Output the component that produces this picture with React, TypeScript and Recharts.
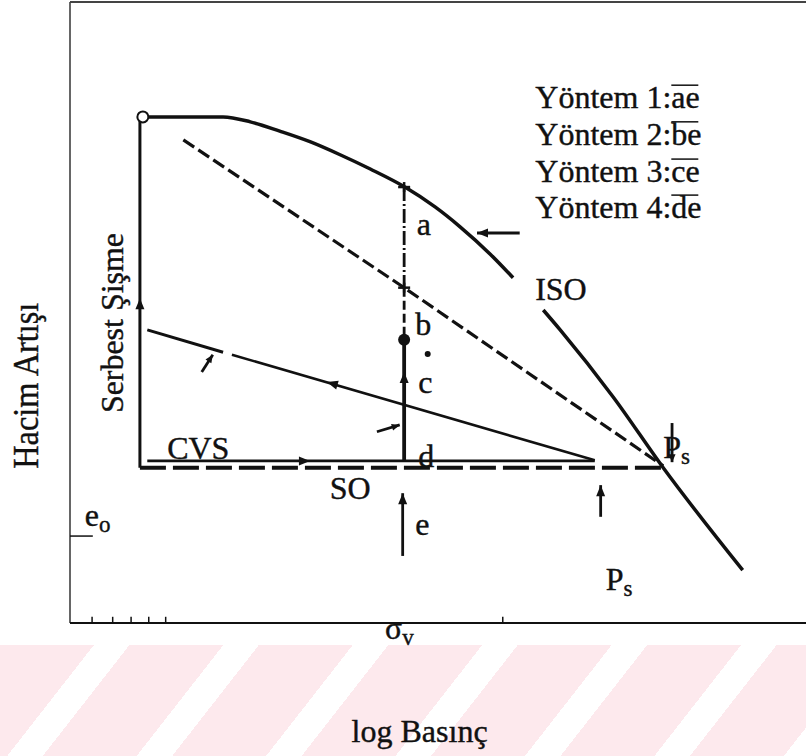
import React from "react";
import { ComposedChart, Line, XAxis, YAxis, ReferenceLine, ReferenceDot } from "recharts";

// all values in plot units: x = log pressure (0..100), y = volume change (0..100)

// ISO curve, broken where the "ISO" label sits
const isoUpper = [
  { x: 10.2, y: 81.5 }, { x: 20.8, y: 81.5 }, { x: 24.5, y: 80.7 }, { x: 28.5, y: 79.2 },
  { x: 32.6, y: 77.5 }, { x: 36.7, y: 75.4 }, { x: 40.8, y: 73.1 }, { x: 45.5, y: 70.2 },
  { x: 49.6, y: 67.0 }, { x: 53.0, y: 63.8 }, { x: 57.1, y: 59.4 }, { x: 60.2, y: 55.6 },
];
const isoLower = [
  { x: 64.3, y: 50.4 }, { x: 66.6, y: 47.2 }, { x: 73.8, y: 36.4 }, { x: 80.6, y: 25.0 }, { x: 91.4, y: 8.5 },
];
// long dashed line (method 2)
const dashB = [{ x: 15.4, y: 77.8 }, { x: 45.4, y: 54.0 }, { x: 80.6, y: 25.3 }];
// CVS loading line, small break near the left
const slopeA = [{ x: 10.5, y: 47.2 }, { x: 20.8, y: 43.6 }];
const slopeB = [{ x: 22.0, y: 43.2 }, { x: 71.3, y: 26.2 }];
const cvsLine = [{ x: 10.5, y: 26.1 }, { x: 71.3, y: 26.1 }];
const soLine = [{ x: 9.5, y: 25.0 }, { x: 80.6, y: 25.0 }];
const freeSwell = [{ x: 9.5, y: 80.8 }, { x: 9.5, y: 25.0 }];
const abChain = [{ x: 45.4, y: 70.2 }, { x: 45.4, y: 54.0 }];
const bDash = [{ x: 45.4, y: 54.0 }, { x: 45.4, y: 45.6 }];
const cdStem = [{ x: 45.4, y: 45.6 }, { x: 45.4, y: 26.2 }];

// free arrows: tail -> tip, dir = screen direction of the tip (deg)
const arrows = [
  { x1: 45.2, y1: 10.8, x2: 45.2, y2: 20.9, dir: -90 },
  { x1: 72.1, y1: 17.1, x2: 72.1, y2: 22.2, dir: -90 },
  { x1: 61.1, y1: 62.8, x2: 55.3, y2: 62.8, dir: 180 },
  { x1: 17.9, y1: 40.4, x2: 19.4, y2: 43.2, dir: -57 },
  { x1: 41.7, y1: 30.8, x2: 44.8, y2: 31.9, dir: -17 },
  { x1: 81.8, y1: 32.2, x2: 81.8, y2: 25.9, dir: 90 },
];
// arrow heads sitting on the paths
const pathHeads = [
  { x: 9.5, y: 52.3, dir: -90 },
  { x: 45.4, y: 40.4, dir: -90 },
  { x: 32.6, y: 26.1, dir: 0 },
  { x: 34.9, y: 38.8, dir: 196 },
];
const crosses = [{ x: 45.4, y: 70.2 }, { x: 45.4, y: 54.0 }];
const openPoint = { x: 9.9, y: 81.5 };
const bigDots = [{ x: 45.4, y: 45.6 }];
const smallDots = [{ x: 48.6, y: 43.3 }];

const methodNames = ["Yöntem 1:", "Yöntem 2:", "Yöntem 3:", "Yöntem 4:"];
const methodSegs = ["ae", "be", "ce", "de"];
const methodY = [82.9, 77.0, 71.0, 65.2];
const methodX = 81.7;

const labels = [
  { x: 47.1, y: 62.5, text: "a" },
  { x: 46.9, y: 46.4, text: "b" },
  { x: 47.3, y: 37.0, text: "c" },
  { x: 47.3, y: 25.1, text: "d" },
  { x: 46.9, y: 14.2, text: "e" },
  { x: 13.2, y: 26.4, text: "CVS" },
  { x: 35.3, y: 20.0, text: "SO" },
  { x: 63.2, y: 52.0, text: "ISO" },
  { x: 72.8, y: 5.3, text: "P", sub: "s" },
  { x: 80.6, y: 26.6, text: "P", sub: "s" },
  { x: 42.8, y: -2.6, text: "σ", sub: "v" },
  { x: 2.0, y: 15.6, text: "e", sub: "o" },
];
// inward tick marks on the pressure axis and the e_o mark on the left axis
const xTicks = [3.0, 5.8, 8.3, 10.7, 13.0, 58.8];
const eoLevel = 14.0;

const SERIF = "'Liberation Serif', 'Times New Roman', serif";
const INK = "#111";
const TXT = { fontFamily: SERIF, fill: INK, stroke: INK, strokeWidth: 0.4 };

const headShape = (dir: number, len = 11, half = 4.5) => (p: any) => (
  <polygon
    points={`0,0 ${-len},${-half} ${-len},${half}`}
    transform={`translate(${p.cx},${p.cy}) rotate(${dir})`}
    fill={INK}
  />
);

const textShape = (l: any) => (p: any) => (
  <text x={p.cx} y={p.cy} fontSize={32} {...TXT}>
    {l.text}
    {l.sub && (
      <tspan dy={6} fontSize={23}>
        {l.sub}
      </tspan>
    )}
  </text>
);

const legendShape = (name: string, seg: string) => (p: any) => (
  <g>
    <text x={p.cx} y={p.cy} textAnchor="end" fontSize={32} {...TXT}>{name}</text>
    <text x={p.cx} y={p.cy} fontSize={32} {...TXT}>{seg}</text>
    <line x1={p.cx} x2={p.cx + 27} y1={p.cy - 23} y2={p.cy - 23} stroke={INK} strokeWidth={1.5} />
  </g>
);

const rotatedShape = (text: string, size: number, length: number) => (p: any) => (
  <text
    x={p.cx}
    y={p.cy}
    transform={`rotate(-90 ${p.cx} ${p.cy})`}
    textAnchor="middle"
    fontSize={size}
    textLength={length}
    lengthAdjust="spacingAndGlyphs"
    {...TXT}
  >
    {text}
  </text>
);

const seg = (data: any[], key: string, width: number, dash?: string, curve: any = "linear") => (
  <Line
    key={key}
    data={data}
    dataKey="y"
    type={curve}
    stroke={INK}
    strokeWidth={width}
    strokeDasharray={dash}
    dot={false}
    activeDot={false}
    isAnimationActive={false}
  />
);

export default function App() {
  return (
    <div style={{ position: "relative", width: 806, height: 756, overflow: "hidden", background: "#fff" }}>
      <style>{"body{margin:0}"}</style>
      <div
        style={{
          position: "absolute",
          left: 0,
          top: 645,
          width: 806,
          height: 111,
          background: "repeating-linear-gradient(128deg, #fde9ed 0px, #fde9ed 74px, #ffffff 74px, #ffffff 102px)",
        }}
      />
      <div style={{ position: "absolute", left: 0, top: 0 }}>
        <ComposedChart width={806} height={756} margin={{ top: 2, right: 0, bottom: 133, left: 70 }}>
          <XAxis type="number" dataKey="x" domain={[0, 100]} allowDataOverflow hide />
          <YAxis type="number" domain={[0, 100]} allowDataOverflow hide />

          {/* frame */}
          <ReferenceLine x={0} stroke="#333" strokeWidth={1.5} />
          <ReferenceLine y={0} stroke={INK} strokeWidth={2} />
          <ReferenceLine y={100} stroke="#444" strokeWidth={2} />
          {xTicks.map((t) => (
            <ReferenceLine key={`xt${t}`} segment={[{ x: t, y: 0 }, { x: t, y: 1.0 }]} stroke={INK} strokeWidth={1.5} ifOverflow="visible" />
          ))}
          <ReferenceLine segment={[{ x: 0, y: eoLevel }, { x: 3.1, y: eoLevel }]} stroke={INK} strokeWidth={1.5} ifOverflow="visible" />

          {seg(isoUpper, "isoU", 3.5, undefined, "monotone")}
          {seg(isoLower, "isoL", 3.5, undefined, "monotone")}
          {seg(dashB, "dashB", 3.2, "13 5")}
          {seg(slopeA, "slA", 3)}
          {seg(slopeB, "slB", 2.6)}
          {seg(cvsLine, "cvs", 2.6)}
          {seg(soLine, "so", 3.8, "26 7")}
          {seg(freeSwell, "free", 3)}
          {seg(abChain, "ab", 2.8, "14 3 2 3")}
          {seg(bDash, "bd", 2.8, "9 4")}
          {seg(cdStem, "cd", 3.8)}
          {arrows.map((a, i) =>
            seg([{ x: a.x1, y: a.y1 }, { x: a.x2, y: a.y2 }], `arrow${i}`, 2.8)
          )}

          {arrows.map((a, i) => (
            <ReferenceDot key={`ah${i}`} x={a.x2} y={a.y2} ifOverflow="visible" shape={headShape(a.dir, i > 2 ? 8 : 11, i > 2 ? 3.5 : 4.5)} />
          ))}
          {pathHeads.map((h, i) => (
            <ReferenceDot key={`ph${i}`} x={h.x} y={h.y} ifOverflow="visible" shape={headShape(h.dir)} />
          ))}
          {crosses.map((c, i) => (
            <ReferenceDot
              key={`cr${i}`}
              x={c.x}
              y={c.y}
              ifOverflow="visible"
              shape={(p: any) => (
                <g stroke={INK} strokeWidth={2.5}>
                  <line x1={p.cx - 6} x2={p.cx + 6} y1={p.cy} y2={p.cy} />
                  <line x1={p.cx} x2={p.cx} y1={p.cy - 5} y2={p.cy + 5} />
                </g>
              )}
            />
          ))}
          <ReferenceDot x={openPoint.x} y={openPoint.y} r={5.5} fill="#fff" stroke={INK} strokeWidth={2} ifOverflow="visible" />
          {bigDots.map((d, i) => (
            <ReferenceDot key={`bd${i}`} x={d.x} y={d.y} r={6} fill={INK} stroke="none" ifOverflow="visible" />
          ))}
          {smallDots.map((d, i) => (
            <ReferenceDot key={`sd${i}`} x={d.x} y={d.y} r={3} fill={INK} stroke="none" ifOverflow="visible" />
          ))}

          {methodNames.map((n, i) => (
            <ReferenceDot key={`m${i}`} x={methodX} y={methodY[i]} ifOverflow="visible" shape={legendShape(n, methodSegs[i])} />
          ))}
          {labels.map((l, i) => (
            <ReferenceDot key={`l${i}`} x={l.x} y={l.y} ifOverflow="visible" shape={textShape(l)} />
          ))}
          <ReferenceDot x={-4.3} y={38.2} ifOverflow="visible" shape={rotatedShape("Hacim Artışı", 36, 166)} />
          <ReferenceDot x={7.2} y={48.3} ifOverflow="visible" shape={rotatedShape("Serbest Şişme", 32, 180)} />
          <ReferenceDot
            x={47.5}
            y={-19.2}
            ifOverflow="visible"
            shape={(p: any) => (
              <text x={p.cx} y={p.cy} textAnchor="middle" fontSize={32} {...TXT}>
                log Basınç
              </text>
            )}
          />
        </ComposedChart>
      </div>
    </div>
  );
}
